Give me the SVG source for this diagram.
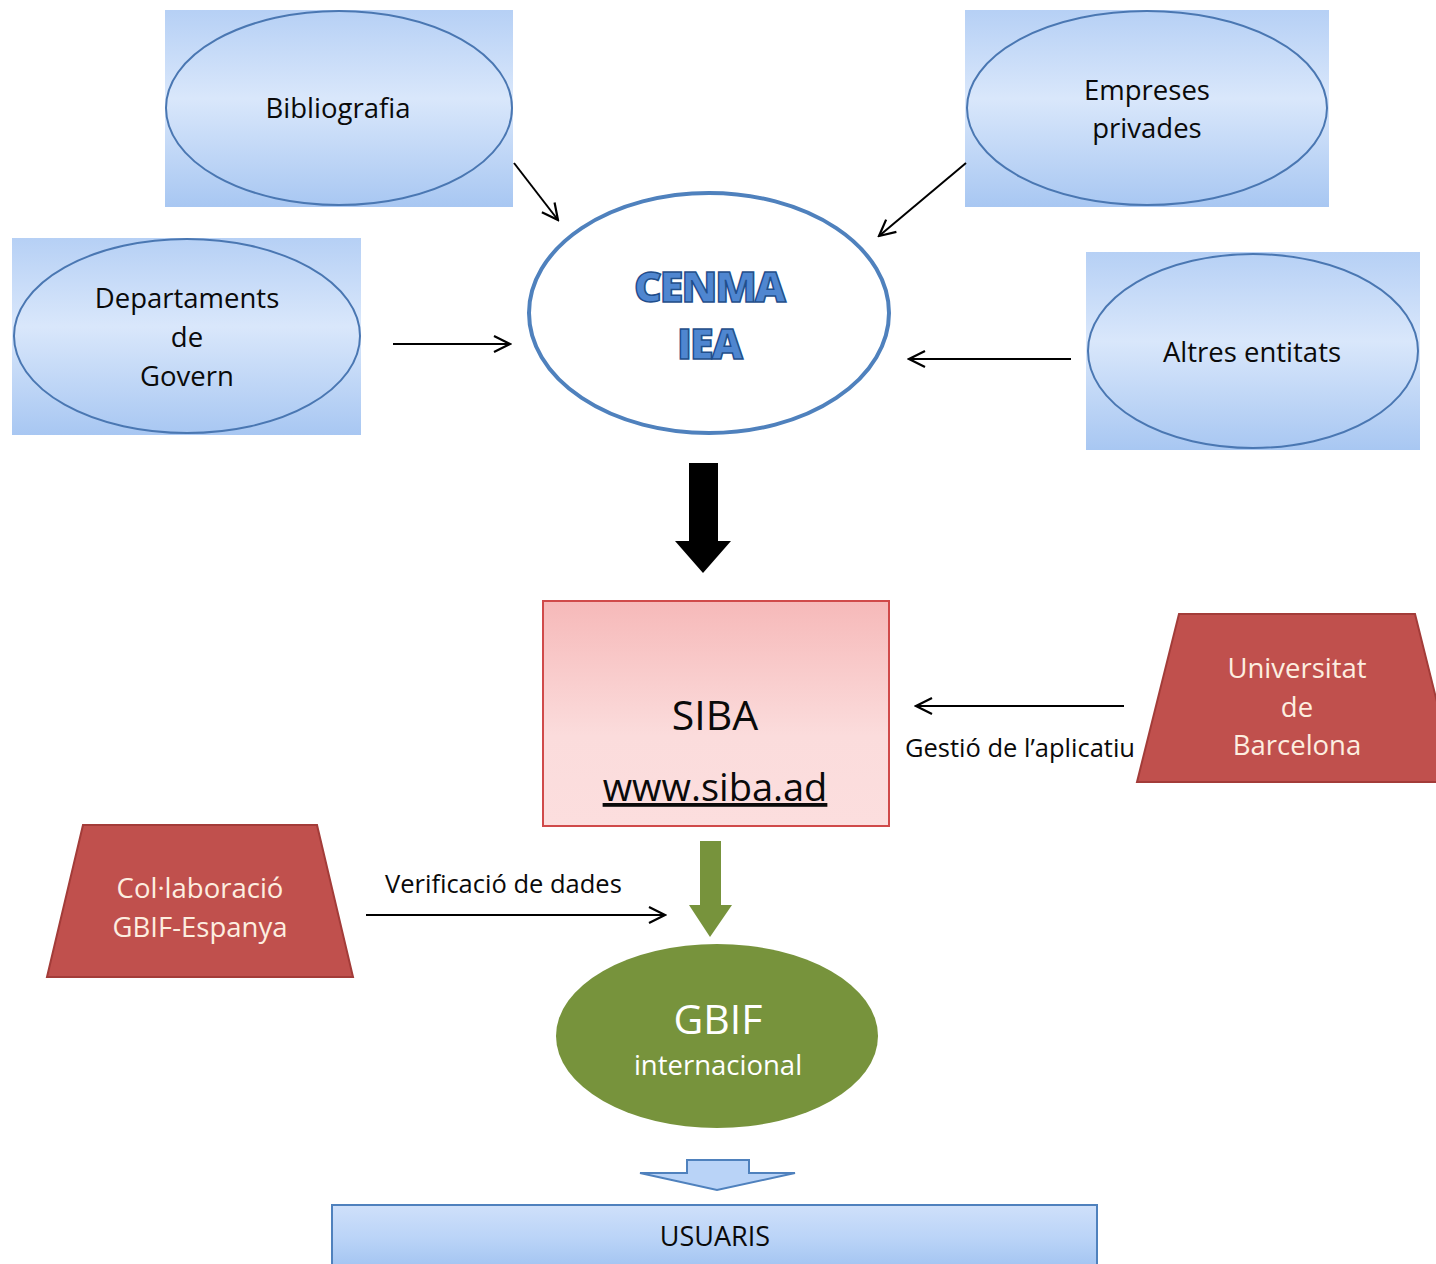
<svg xmlns="http://www.w3.org/2000/svg" width="1436" height="1264" viewBox="0 0 1436 1264">
<defs>
<linearGradient id="gBlue" x1="0" y1="0" x2="0" y2="1">
<stop offset="0" stop-color="#b6d0f5"/>
<stop offset="0.45" stop-color="#d9e7fb"/>
<stop offset="1" stop-color="#a8c7f2"/>
</linearGradient>
<linearGradient id="gPink" x1="0" y1="0" x2="0" y2="1">
<stop offset="0" stop-color="#f6b9b9"/>
<stop offset="0.6" stop-color="#fbdcdc"/>
<stop offset="1" stop-color="#fcdede"/>
</linearGradient>
<linearGradient id="gUs" x1="0" y1="0" x2="0" y2="1">
<stop offset="0" stop-color="#cfe0fa"/>
<stop offset="0.5" stop-color="#b9d3f7"/>
<stop offset="1" stop-color="#9dc0f0"/>
</linearGradient>
<marker id="arr" viewBox="0 0 20 20" refX="18" refY="10" markerWidth="20" markerHeight="20" markerUnits="userSpaceOnUse" orient="auto">
<path d="M2,2 L18,10 L2,18" fill="none" stroke="#000" stroke-width="2.2"/>
</marker>
<style>
.t{font-family:"Open Sans","Liberation Sans",sans-serif;font-size:27.5px;fill:#0a0a0a;text-anchor:middle}
.w{fill:#fdeee0}
.ell{fill:none;stroke:#4a77b2;stroke-width:2}
.trap{fill:#c0504d;stroke:#a33c39;stroke-width:2}
.con{stroke:#000;stroke-width:2;fill:none;marker-end:url(#arr)}
.lab{font-family:"Open Sans","Liberation Sans",sans-serif;font-size:25.5px;fill:#0a0a0a}
.cen{font-family:"Open Sans","Liberation Sans",sans-serif;font-weight:800;font-size:43px;letter-spacing:-2px;fill:#4f86d0;stroke:#1f4e8c;stroke-width:1.5;text-anchor:middle}
</style>
</defs>
<rect width="1436" height="1264" fill="#fff"/>

<g id="bibliografia">
<rect x="165" y="10" width="348" height="197" fill="url(#gBlue)"/>
<ellipse cx="339" cy="108" rx="173" ry="97" class="ell"/>
<text x="338" y="118" class="t">Bibliografia</text>
</g>

<g id="empreses">
<rect x="965" y="10" width="364" height="197" fill="url(#gBlue)"/>
<ellipse cx="1147" cy="108" rx="180" ry="97" class="ell"/>
<text x="1147" y="100" class="t">Empreses</text>
<text x="1147" y="138" class="t">privades</text>
</g>

<g id="departaments">
<rect x="12" y="238" width="349" height="197" fill="url(#gBlue)"/>
<ellipse cx="187" cy="336" rx="173" ry="97" class="ell"/>
<text x="187" y="308" class="t">Departaments</text>
<text x="187" y="347" class="t">de</text>
<text x="187" y="386" class="t">Govern</text>
</g>

<g id="altres">
<rect x="1086" y="252" width="334" height="198" fill="url(#gBlue)"/>
<ellipse cx="1253" cy="351" rx="165" ry="97" class="ell"/>
<text x="1252" y="362" class="t">Altres entitats</text>
</g>

<g id="cenma">
<ellipse cx="709" cy="313" rx="180" ry="120" fill="#fff" stroke="#4f81bd" stroke-width="4"/>
<text x="709" y="302" class="cen">CENMA</text>
<text x="709" y="359" class="cen">IEA</text>
</g>

<g id="siba">
<rect x="543" y="601" width="346" height="225" fill="url(#gPink)" stroke="#d04a4a" stroke-width="2"/>
<text x="715" y="730" class="t" style="font-size:41px">SIBA</text>
<text x="715" y="801" class="t" style="font-size:38px;text-decoration:underline">www.siba.ad</text>
</g>

<g id="universitat">
<polygon points="1179,614 1415,614 1457,782 1137,782" class="trap"/>
<text x="1297" y="678" class="t w">Universitat</text>
<text x="1297" y="717" class="t w">de</text>
<text x="1297" y="755" class="t w">Barcelona</text>
</g>

<g id="collaboracio">
<polygon points="83,825 317,825 353,977 47,977" class="trap"/>
<text x="200" y="898" class="t w">Col·laboració</text>
<text x="200" y="937" class="t w">GBIF-Espanya</text>
</g>

<g id="gbif">
<ellipse cx="717" cy="1036" rx="161" ry="92" fill="#77933c"/>
<text x="718" y="1034" class="t" style="font-size:41px;fill:#fff">GBIF</text>
<text x="718" y="1075" class="t" style="fill:#fff">internacional</text>
</g>

<g id="usuaris">
<rect x="332" y="1205" width="765" height="70" fill="url(#gUs)" stroke="#4f81bd" stroke-width="2"/>
<text x="715" y="1246" class="t" style="font-size:27px">USUARIS</text>
</g>

<g id="connectors">
<line x1="514" y1="163" x2="558" y2="220" class="con"/>
<line x1="966" y1="163" x2="879" y2="236" class="con"/>
<line x1="393" y1="344" x2="510" y2="344" class="con"/>
<line x1="1071" y1="359" x2="909" y2="359" class="con"/>
<polygon points="689,463 718,463 718,541 731,541 703,573 675,541 689,541" fill="#000"/>
<line x1="1124" y1="706" x2="916" y2="706" class="con"/>
<text x="905" y="757" class="lab">Gestió de l’aplicatiu</text>
<polygon points="700,841 721,841 721,905 732,905 710,937 689,905 700,905" fill="#77933c"/>
<line x1="366" y1="915" x2="665" y2="915" class="con"/>
<text x="385" y="893" class="lab">Verificació de dades</text>
<polygon points="687,1160 749,1160 749,1173 795,1173 717,1190 640,1173 687,1173" fill="#b9d3f7" stroke="#4f81bd" stroke-width="2"/>
</g>
</svg>
